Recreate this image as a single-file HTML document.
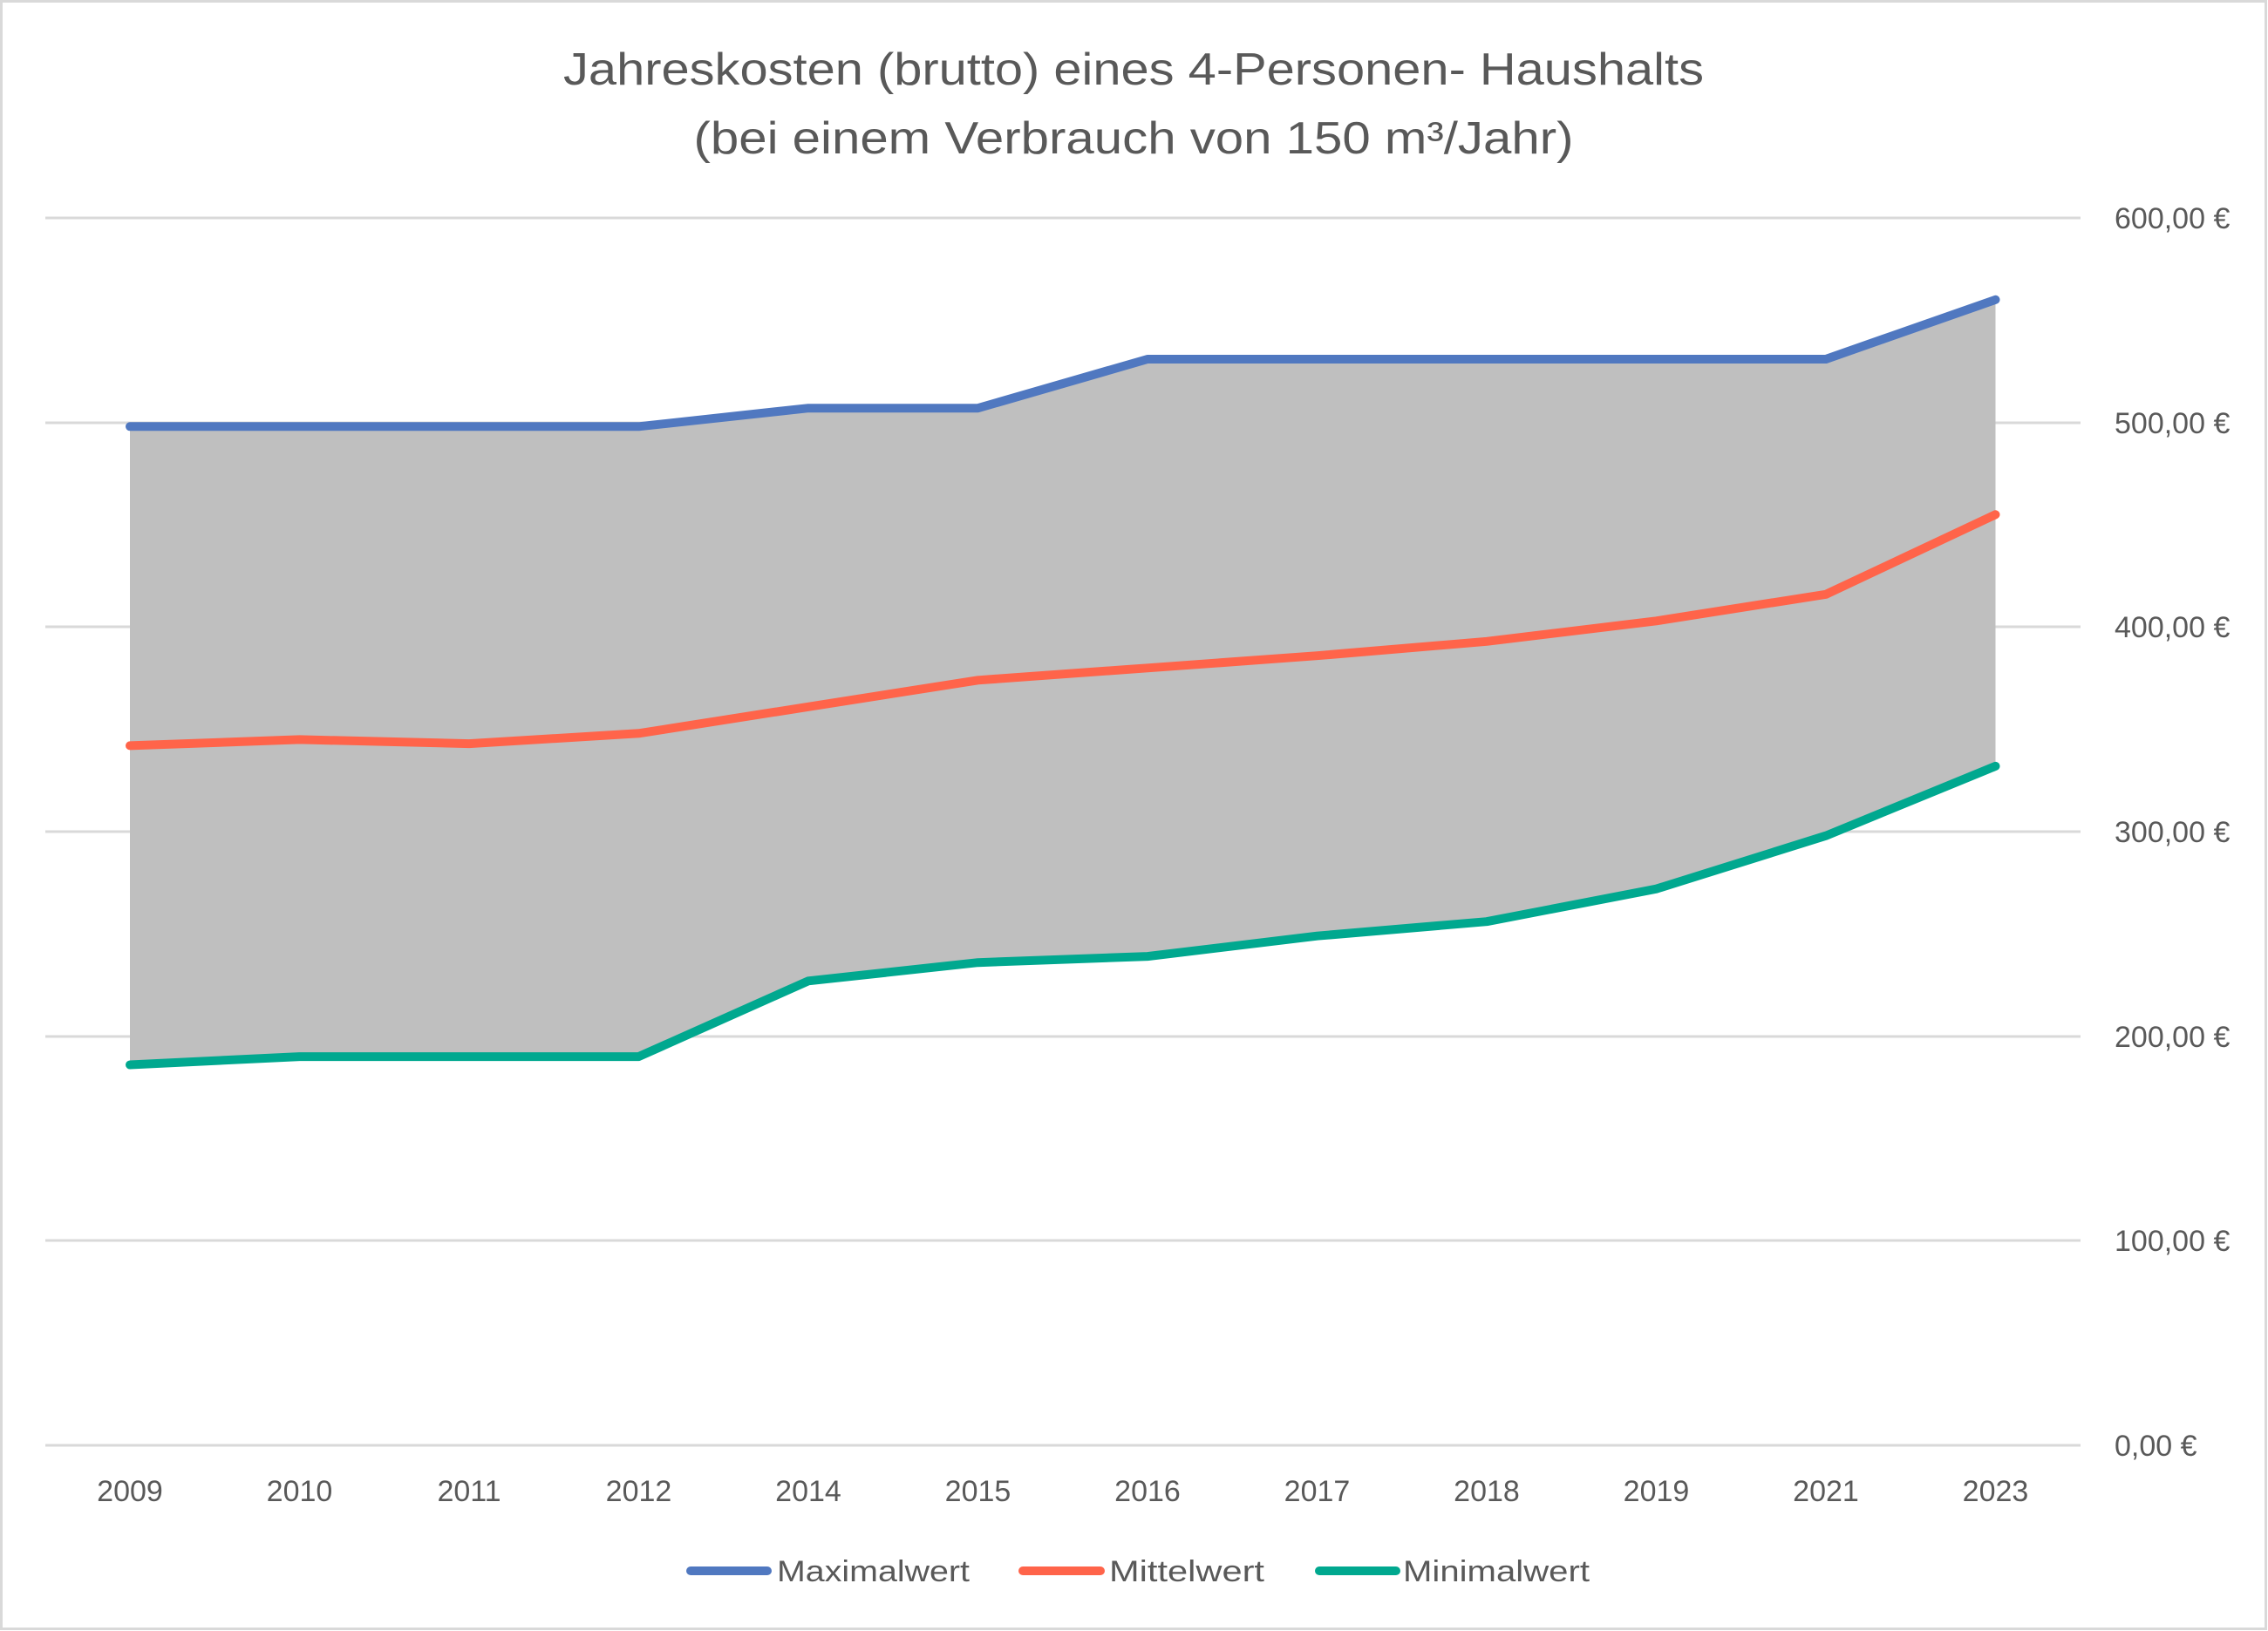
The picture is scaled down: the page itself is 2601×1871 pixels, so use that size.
<!DOCTYPE html>
<html><head><meta charset="utf-8"><style>html,body{margin:0;padding:0;background:#fff}svg{display:block}text{font-family:"Liberation Sans",sans-serif;fill:#595959}</style></head>
<body>
<svg width="2601" height="1871" viewBox="0 0 2601 1871" xmlns="http://www.w3.org/2000/svg">
<rect x="1.5" y="1.5" width="2597" height="1867" fill="#fff" stroke="#d9d9d9" stroke-width="3"/>
<text x="1300" y="97" font-size="52" text-anchor="middle" textLength="1308" lengthAdjust="spacingAndGlyphs">Jahreskosten (brutto) eines 4-Personen- Haushalts</text>
<text x="1300" y="176" font-size="52" text-anchor="middle" textLength="1009" lengthAdjust="spacingAndGlyphs">(bei einem Verbrauch von 150 m³/Jahr)</text>
<g stroke="#d9d9d9" stroke-width="3">
<line x1="52" y1="250" x2="2386" y2="250"/><line x1="52" y1="485" x2="2386" y2="485"/><line x1="52" y1="719" x2="2386" y2="719"/><line x1="52" y1="954" x2="2386" y2="954"/><line x1="52" y1="1189" x2="2386" y2="1189"/><line x1="52" y1="1423" x2="2386" y2="1423"/><line x1="52" y1="1658" x2="2386" y2="1658"/>
</g>
<polygon fill="#bfbfbf" points="149,489.3 343.5,489.3 538,489.3 732.5,489.3 927,468.2 1121.5,468.2 1316,412 1510.5,412 1705,412 1899.5,412 2094,412 2288.5,343.8 2288.5,878.9 2094,958.7 1899.5,1019.7 1705,1057.2 1510.5,1073.7 1316,1097.1 1121.5,1104.2 927,1125.3 732.5,1212.1 538,1212.1 343.5,1212.1 149,1221.5"/>
<g fill="none" stroke-width="10" stroke-linecap="round" stroke-linejoin="round">
<polyline stroke="#5078c0" points="149,489.3 343.5,489.3 538,489.3 732.5,489.3 927,468.2 1121.5,468.2 1316,412 1510.5,412 1705,412 1899.5,412 2094,412 2288.5,343.8"/>
<polyline stroke="#ff644a" points="149,855.4 343.5,848.4 538,853.1 732.5,841.3 927,810.8 1121.5,780.3 1316,766.3 1510.5,752.2 1705,735.8 1899.5,712.3 2094,681.8 2288.5,590.3"/>
<polyline stroke="#00a88f" points="149,1221.5 343.5,1212.1 538,1212.1 732.5,1212.1 927,1125.3 1121.5,1104.2 1316,1097.1 1510.5,1073.7 1705,1057.2 1899.5,1019.7 2094,958.7 2288.5,878.9"/>
</g>
<g font-size="34">
<text x="2425" y="262">600,00 €</text><text x="2425" y="497">500,00 €</text><text x="2425" y="731">400,00 €</text><text x="2425" y="966">300,00 €</text><text x="2425" y="1201">200,00 €</text><text x="2425" y="1435">100,00 €</text><text x="2425" y="1670">0,00 €</text>
</g>
<g font-size="34" text-anchor="middle">
<text x="149" y="1722">2009</text><text x="343.5" y="1722">2010</text><text x="538" y="1722">2011</text><text x="732.5" y="1722">2012</text><text x="927" y="1722">2014</text><text x="1121.5" y="1722">2015</text><text x="1316" y="1722">2016</text><text x="1510.5" y="1722">2017</text><text x="1705" y="1722">2018</text><text x="1899.5" y="1722">2019</text><text x="2094" y="1722">2021</text><text x="2288.5" y="1722">2023</text>
</g>
<g stroke-width="10" stroke-linecap="round">
<line x1="792" y1="1802" x2="880" y2="1802" stroke="#5078c0"/>
<line x1="1173" y1="1802" x2="1262" y2="1802" stroke="#ff644a"/>
<line x1="1513" y1="1802" x2="1601" y2="1802" stroke="#00a88f"/>
</g>
<g font-size="34">
<text x="891" y="1814" textLength="221" lengthAdjust="spacingAndGlyphs">Maximalwert</text>
<text x="1272" y="1814" textLength="178" lengthAdjust="spacingAndGlyphs">Mittelwert</text>
<text x="1609" y="1814" textLength="214" lengthAdjust="spacingAndGlyphs">Minimalwert</text>
</g>
</svg>
</body></html>
